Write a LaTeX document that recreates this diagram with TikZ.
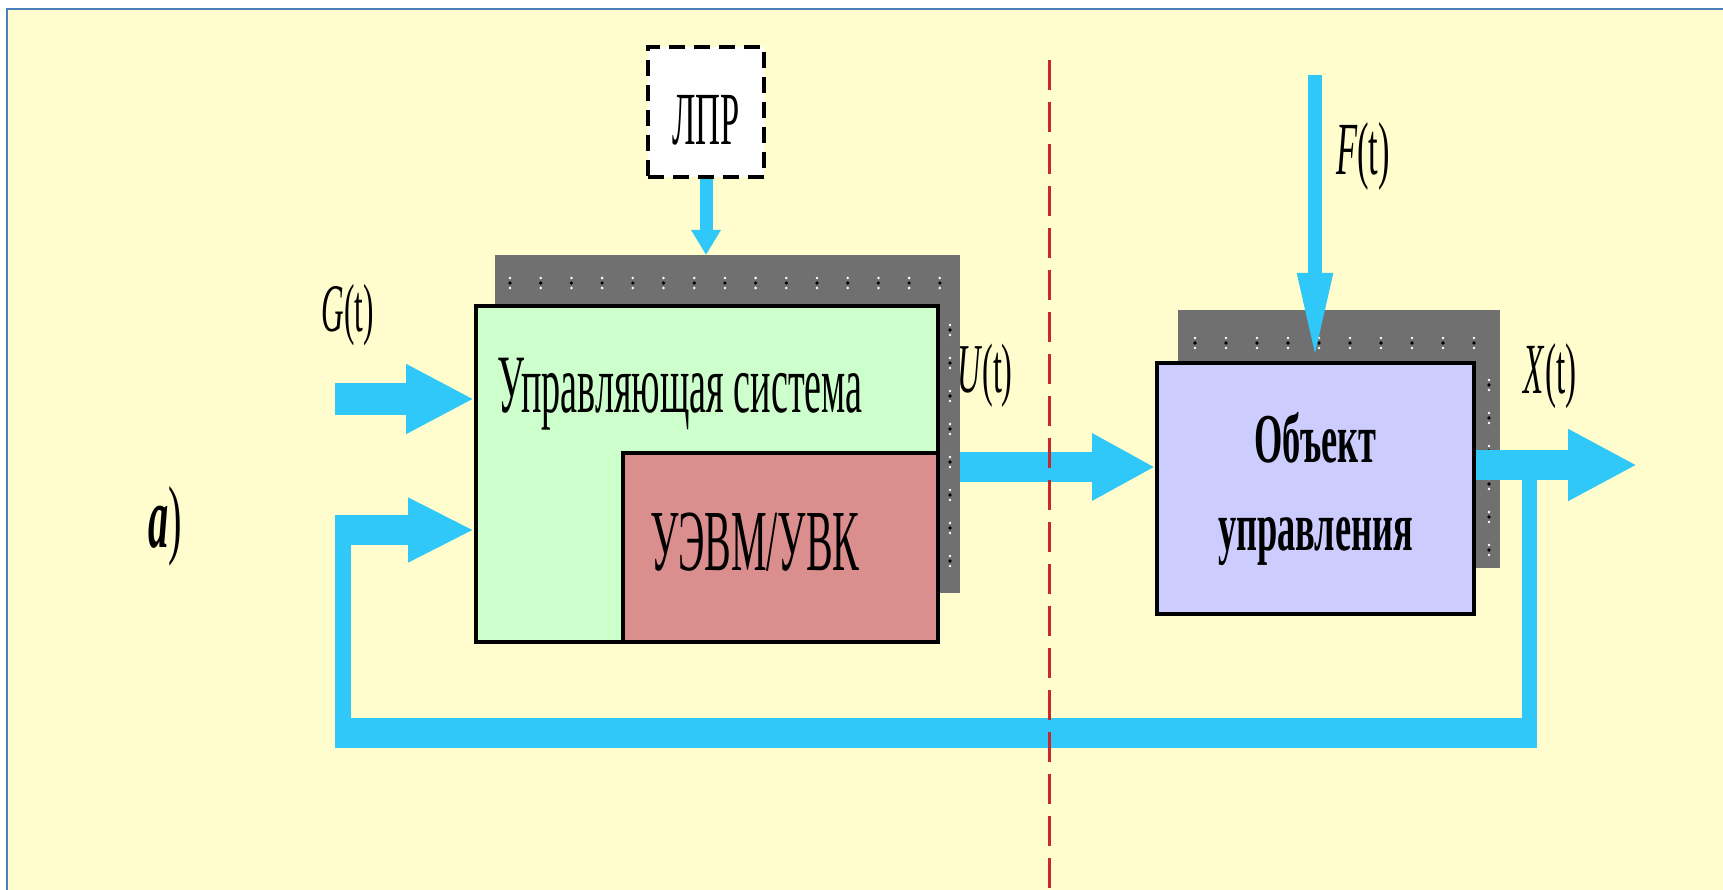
\documentclass[tikz,border=0pt]{standalone}
\usepackage{fontspec}
\setmainfont{Liberation Serif}
\newfontfamily\narrowserif[FakeStretch=0.46]{Liberation Serif}
\newfontfamily\narrowbold[FakeStretch=0.52]{Liberation Serif}
\usetikzlibrary{arrows.meta}

\definecolor{paper}{HTML}{FFFCCD}
\definecolor{frameblue}{HTML}{4A7EBB}
\definecolor{flowc}{HTML}{2FC8F8}
\definecolor{shadowgray}{HTML}{707070}
\definecolor{csgreen}{HTML}{CCFFCC}
\definecolor{evmred}{HTML}{DB8E8E}
\definecolor{objviolet}{HTML}{CCCCFF}
\definecolor{borderred}{HTML}{C8282D}

\begin{document}
\begin{tikzpicture}[x=1pt,y=-1pt,
  shadowbox/.style={rectangle,fill=shadowgray,inner sep=0pt,outer sep=0pt},
  blockbox/.style={rectangle,draw=black,line width=4pt,inner sep=0pt},
  flow/.style={draw=flowc,line cap=butt},
  lbl/.style={inner sep=0pt,anchor=base,font=\narrowserif}
]
% page and frame
\useasboundingbox (0,0) rectangle (1723,890);
\fill[white] (0,0) rectangle (1723,890);
\fill[paper] (7,9) rectangle (1723,890);
\draw[frameblue,line width=2.2pt] (7,890) -- (7,9) -- (1723,9);

% control system block with its shadow
\node[shadowbox,minimum width=465pt,minimum height=338pt] (csshadow) at (727.5,424) {};
\foreach \i in {0,...,14} {
  \pgfmathsetmacro\dx{510+30.7*\i}
  \fill[white] (\dx,278) circle (1.4);
  \fill[black] (\dx,283) circle (1.8);
  \fill[white] (\dx,288) circle (1.4);
}
\foreach \j in {0,...,7} {
  \pgfmathsetmacro\dy{330+33*\j}
  \fill[white] (950,\dy-5) circle (1.4);
  \fill[black] (950,\dy) circle (1.8);
  \fill[white] (950,\dy+5) circle (1.4);
}
\node[blockbox,fill=csgreen,minimum width=462pt,minimum height=336pt] (cs) at (707,474) {};
\node[blockbox,fill=evmred,minimum width=315pt,minimum height=189pt] (evm) at (780.5,547.5) {};
\node[lbl,font=\narrowserif\fontsize{83}{90}\selectfont] (cstext) at (680,412) {Управляющая система};
\node[lbl,font=\narrowserif\fontsize{87}{90}\selectfont] (evmtext) at (755,570) {УЭВМ/УВК};

% decision maker
\node[rectangle,draw=black,fill=white,line width=4.5pt,dash pattern=on 16pt off 9pt,
      minimum width=116pt,minimum height=130pt,inner sep=0pt] (lpr) at (706,112) {};
\node[lbl,font=\narrowserif\fontsize{75}{80}\selectfont] (lprtext) at (706,145) {ЛПР};

% controlled object with its shadow
\node[shadowbox,minimum width=322pt,minimum height=258pt] (obshadow) at (1339,439) {};
\foreach \i in {0,...,9} {
  \pgfmathsetmacro\dx{1195+31*\i}
  \fill[white] (\dx,338) circle (1.4);
  \fill[black] (\dx,343) circle (1.8);
  \fill[white] (\dx,348) circle (1.4);
}
\foreach \j in {0,...,5} {
  \pgfmathsetmacro\dy{385+33*\j}
  \fill[white] (1489,\dy-5) circle (1.4);
  \fill[black] (1489,\dy) circle (1.8);
  \fill[white] (1489,\dy+5) circle (1.4);
}
\node[blockbox,fill=objviolet,minimum width=317pt,minimum height=251pt,
      align=center,font=\narrowbold\bfseries\fontsize{70}{88}\selectfont] (ob) at (1315.5,488.5)
      {Объект\\управления};

% signal levels
\coordinate (gstart) at (335,399);
\coordinate (fbcorner) at (335,530);
\coordinate (ulevel) at (1000,467);
\coordinate (xtap) at (1529.5,465);
\coordinate (xend) at (1637,465);
\coordinate (fstart) at (1315,75);
\coordinate (fbR) at (1529.5,748);
\coordinate (fbbotL) at (335,733);
\coordinate (fbbotR) at (1537,733);
\coordinate (fbL) at (342.5,748);
\coordinate (fbLtop) at (342.5,530);

% input G(t)
\draw[flow,line width=32pt,-{Triangle[length=68pt,width=65pt]}] (gstart) -- (gstart -| cs.west);
% feedback loop
\draw[flow,line width=15pt] (xtap) -- (fbR);
\draw[flow,line width=30pt] (fbbotL) -- (fbbotR);
\draw[flow,line width=16pt] (fbL) -- (fbLtop);
\draw[flow,line width=30pt,-{Triangle[length=66pt,width=60pt]}] (fbcorner) -- (fbcorner -| cs.west);
% control action U(t)
\draw[flow,line width=30pt,-{Triangle[length=63pt,width=63pt]}] (csshadow.east |- ulevel) -- (ob.west |- ulevel);
% output X(t)
\draw[flow,line width=30pt,-{Triangle[length=69pt,width=67pt]}] (ob.east |- xtap) -- (xend);
% disturbance F(t)
\draw[flow,line width=14pt,-{Triangle[length=88pt,width=32pt]}] (fstart) -- (fstart |- ob.north);
% decision maker input
\draw[flow,line width=13pt,-{Triangle[length=25pt,width=28pt]}] (lpr.south) -- (lpr.south |- csshadow.north);

% signal labels
\node[lbl,font=\narrowserif\fontsize{68}{70}\selectfont] (glabel) at (348,332) {\textit{G}(t)};
\node[lbl,font=\narrowserif\fontsize{70}{70}\selectfont] (ulabel) at (985,392) {\textit{U}(t)};
\node[lbl,font=\narrowserif\fontsize{75}{70}\selectfont] (flabel) at (1363,175) {\textit{F}(t)};
\node[lbl,font=\narrowserif\fontsize{72}{70}\selectfont] (xlabel) at (1550,393) {\textit{X}(t)};
\node[lbl,font=\narrowserif\fontsize{88}{90}\selectfont] (part) at (165,547) {\textbf{\textit{а}})};

% boundary between control system and object
\draw[borderred,line width=3pt,dash pattern=on 30pt off 12pt] (1049,60) -- (1049,890);
\end{tikzpicture}
\end{document}
